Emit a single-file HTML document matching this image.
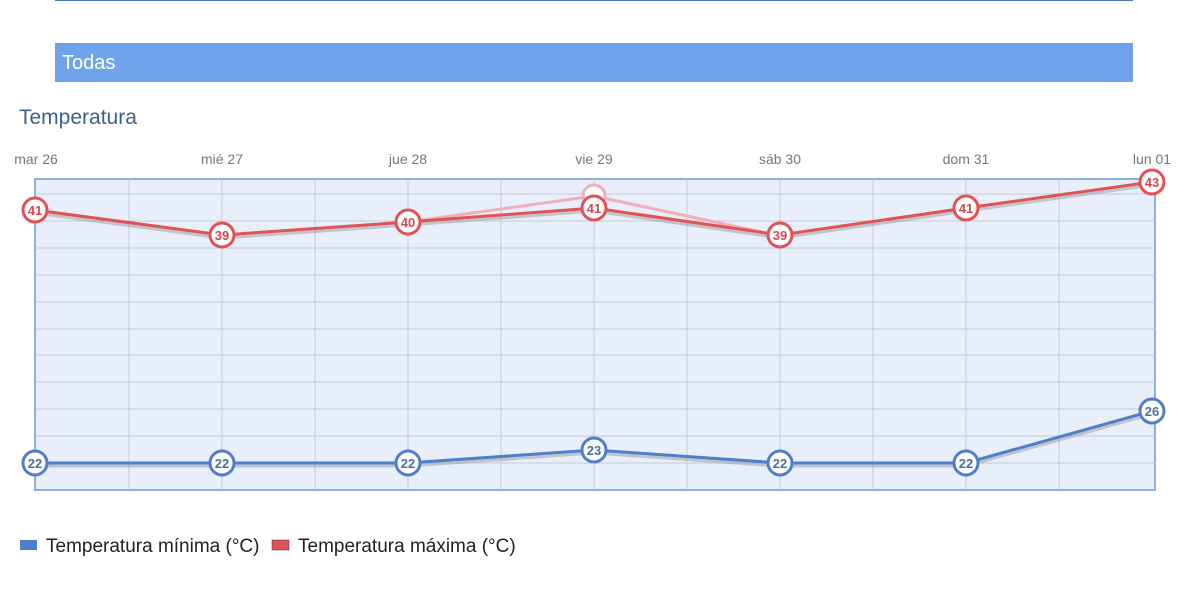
<!DOCTYPE html>
<html><head><meta charset="utf-8"><style>
body{margin:0;width:1188px;height:605px;background:#fff;font-family:"Liberation Sans",sans-serif;overflow:hidden;position:relative}
</style></head><body>
<div style="position:absolute;left:55px;top:0;width:1078px;height:1px;background:#4a72b8"></div>
<div style="position:absolute;left:55px;top:43px;width:1078px;height:39px;background:#6fa3ec;color:#fff;font-size:20px;line-height:41px;padding-left:7px;box-sizing:border-box">Todas</div>
<div style="position:absolute;left:19px;top:106px;font-size:21px;color:#3d5f8f">Temperatura</div>
<svg width="1188" height="605" style="position:absolute;left:0;top:0" font-family="Liberation Sans, sans-serif">
<g font-size="14" fill="#777" text-anchor="middle">
<text x="36" y="164">mar 26</text><text x="222" y="164">mié 27</text><text x="408" y="164">jue 28</text><text x="594" y="164">vie 29</text><text x="780" y="164">sáb 30</text><text x="966" y="164">dom 31</text><text x="1152" y="164">lun 01</text></g>
<rect x="35" y="179" width="1120" height="311" fill="#e8effa" stroke="#8fb0de" stroke-width="2"/>
<g stroke="#c3cad6" stroke-width="1">
<line x1="35" x2="1155" y1="194" y2="194"/><line x1="35" x2="1155" y1="221" y2="221"/><line x1="35" x2="1155" y1="248" y2="248"/><line x1="35" x2="1155" y1="275" y2="275"/><line x1="35" x2="1155" y1="302" y2="302"/><line x1="35" x2="1155" y1="329" y2="329"/><line x1="35" x2="1155" y1="355" y2="355"/><line x1="35" x2="1155" y1="382" y2="382"/><line x1="35" x2="1155" y1="409" y2="409"/><line x1="35" x2="1155" y1="436" y2="436"/><line x1="35" x2="1155" y1="463" y2="463"/>
<line y1="179" y2="490" x1="129" x2="129"/><line y1="179" y2="490" x1="222" x2="222"/><line y1="179" y2="490" x1="315" x2="315"/><line y1="179" y2="490" x1="408" x2="408"/><line y1="179" y2="490" x1="501" x2="501"/><line y1="179" y2="490" x1="594" x2="594"/><line y1="179" y2="490" x1="687" x2="687"/><line y1="179" y2="490" x1="780" x2="780"/><line y1="179" y2="490" x1="873" x2="873"/><line y1="179" y2="490" x1="966" x2="966"/><line y1="179" y2="490" x1="1059" x2="1059"/>
</g>
<polyline points="408,222 594,196 780,236" fill="none" stroke="#f0b0b5" stroke-width="3"/>
<circle cx="594" cy="196" r="11" fill="#fff" stroke="#f0b0b5" stroke-width="3"/>
<polyline points="35,213 222,238 408,225 594,211 780,238 966,211 1152,185" fill="none" stroke="#999" stroke-width="3" opacity=".5"/>
<polyline points="35,210 222,235 408,222 594,208 780,235 966,208 1152,182" fill="none" stroke="#e05256" stroke-width="3"/>
<polyline points="35,466 222,466 408,466 594,453 780,466 966,466 1152,414" fill="none" stroke="#999" stroke-width="3" opacity=".5"/>
<polyline points="35,463 222,463 408,463 594,450 780,463 966,463 1152,411" fill="none" stroke="#4f7fc8" stroke-width="3"/>
<g font-size="13" font-weight="bold" text-anchor="middle">
<g fill="#fff" stroke="#e05256" stroke-width="3">
<circle cx="35" cy="210" r="12"/><circle cx="222" cy="235" r="12"/><circle cx="408" cy="222" r="12"/><circle cx="594" cy="208" r="12"/><circle cx="780" cy="235" r="12"/><circle cx="966" cy="208" r="12"/><circle cx="1152" cy="182" r="12"/></g>
<g fill="#d8474c"><text x="35" y="215">41</text><text x="222" y="240">39</text><text x="408" y="227">40</text><text x="594" y="213">41</text><text x="780" y="240">39</text><text x="966" y="213">41</text><text x="1152" y="187">43</text></g>
<g fill="#fff" stroke="#4f7fc8" stroke-width="3">
<circle cx="35" cy="463" r="12"/><circle cx="222" cy="463" r="12"/><circle cx="408" cy="463" r="12"/><circle cx="594" cy="450" r="12"/><circle cx="780" cy="463" r="12"/><circle cx="966" cy="463" r="12"/><circle cx="1152" cy="411" r="12"/></g>
<g fill="#4a6fa8"><text x="35" y="468">22</text><text x="222" y="468">22</text><text x="408" y="468">22</text><text x="594" y="455">23</text><text x="780" y="468">22</text><text x="966" y="468">22</text><text x="1152" y="416">26</text></g>
</g>
<rect x="20" y="540" width="17" height="10" fill="#4f7fc8"/>
<text x="46" y="552" font-size="19" fill="#222">Temperatura mínima (°C)</text>
<rect x="272" y="540" width="17" height="10" fill="#e05256" stroke="#333" stroke-width=".5"/>
<text x="298" y="552" font-size="19" fill="#222">Temperatura máxima (°C)</text>
</svg>
</body></html>
